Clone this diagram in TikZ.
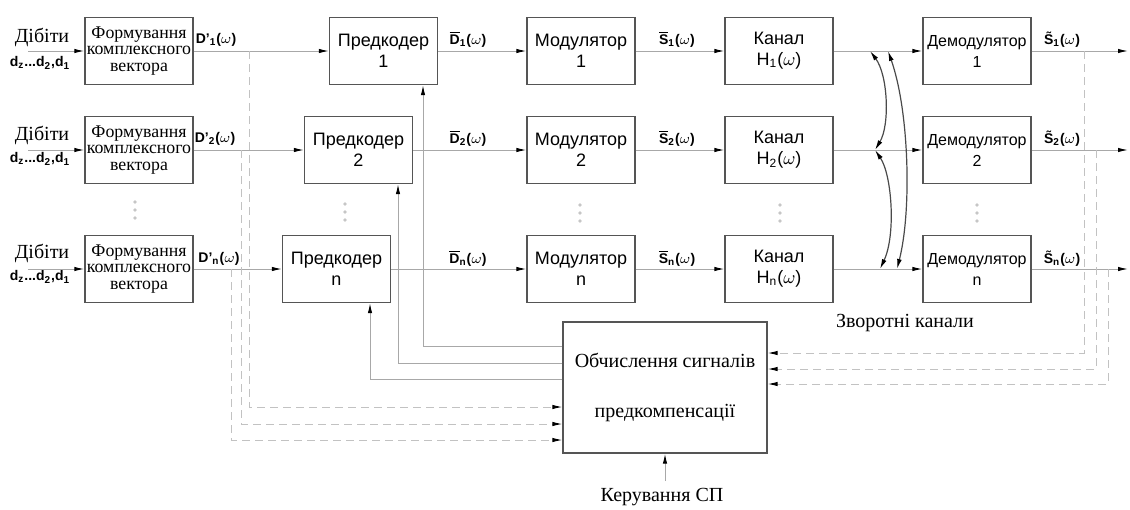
\documentclass[tikz,border=0pt]{standalone}
\usepackage{fontspec}
\setmainfont{Liberation Serif}
\setsansfont{Liberation Sans}
\usepackage{tikz}
\usetikzlibrary{arrows.meta,positioning,calc}
\definecolor{cBox}{HTML}{555555}
\definecolor{cFlow}{HTML}{A8A8A8}
\definecolor{cDash}{HTML}{C2C2C2}
\definecolor{cFb}{HTML}{4A4A4A}
\newcommand{\barsym}[1]{\vbox{\hrule height 0.5pt\kern0.8pt\hbox{#1}}}
\tikzset{
  blkBox/.style={
    draw=cBox,
    line width=0.6pt,
    fill=white,
    align=center,
    font=\sffamily\fontsize{9}{10.5}\selectfont,
    minimum width=54pt,
    minimum height=33.5pt,
    inner sep=1pt
  },
  formBox/.style={
    blkBox,
    font=\fontsize{8.9}{8.2}\selectfont
  },
  demodBox/.style={
    blkBox,
    font=\sffamily\fontsize{8}{10.5}\selectfont
  },
  calcBox/.style={
    blkBox,
    font=\fontsize{10}{12}\selectfont,
    minimum width=102pt,
    minimum height=65.5pt
  },
  sigLabel/.style={
    font=\sffamily\bfseries\fontsize{7}{8}\selectfont,
    inner sep=0pt
  },
  inLabel/.style={
    font=\fontsize{10}{11}\selectfont,
    inner sep=0pt
  },
  flowArrow/.style={
    -{Latex[length=5pt,width=2.2pt,color=black]},
    draw=cFlow,
    line width=0.5pt
  },
  dashArrow/.style={
    -{Latex[length=5pt,width=2.2pt,color=black]},
    draw=cDash,
    dash pattern=on 4pt off 2.5pt,
    line width=0.5pt
  },
  fbArrow/.style={
    {Latex[length=5pt,width=2.4pt,color=black]}-{Latex[length=5pt,width=2.4pt,color=black]},
    draw=cFb,
    line width=0.6pt
  },
  dotMark/.style={
    fill=gray!45
  }
}

\begin{document}
\begin{tikzpicture}[x=0.5pt,y=-0.5pt]
  \useasboundingbox (0,0) rectangle (1130,509);

  % inputs
  \node[inLabel] (dig1) at (42,37) {Дібіти};
  \node[inLabel] (dig2) at (42,135) {Дібіти};
  \node[inLabel] (dign) at (42,253) {Дібіти};
  \node[sigLabel] (bits1) at (40,63) {d\textsubscript{z}...d\textsubscript{2},d\textsubscript{1}};
  \node[sigLabel] (bits2) at (40,159) {d\textsubscript{z}...d\textsubscript{2},d\textsubscript{1}};
  \node[sigLabel] (bitsn) at (40,277) {d\textsubscript{z}...d\textsubscript{2},d\textsubscript{1}};
  \coordinate (in1) at (28,51);
  \coordinate (in2) at (28,150);
  \coordinate (inn) at (28,269);

  % blocks
  \node[formBox] (f1) at (139,51) {Формування\\комплексного\\вектора};
  \node[formBox] (f2) at (139,150) {Формування\\комплексного\\вектора};
  \node[formBox] (fn) at (139,269) {Формування\\комплексного\\вектора};

  \node[blkBox] (pc1) at (383.5,51) {Предкодер\\1};
  \node[blkBox] (pc2) at (358.5,150) {Предкодер\\2};
  \node[blkBox] (pcn) at (336.5,269) {Предкодер\\n};

  \node[blkBox] (m1) at (581,51) {Модулятор\\1};
  \node[blkBox] (m2) at (581,150) {Модулятор\\2};
  \node[blkBox] (mn) at (581,269) {Модулятор\\n};

  \node[blkBox] (ch1) at (779,51) {Канал\\H\textsubscript{1}($\omega$)};
  \node[blkBox] (ch2) at (779,150) {Канал\\H\textsubscript{2}($\omega$)};
  \node[blkBox] (chn) at (779,269) {Канал\\H\textsubscript{n}($\omega$)};

  \node[demodBox] (dm1) at (977,51) {Демодулятор\\1};
  \node[demodBox] (dm2) at (977,150) {Демодулятор\\2};
  \node[demodBox] (dmn) at (977,269) {Демодулятор\\n};

  \node[calcBox] (calc) at (665,387.5) {Обчислення сигналів\\[13pt]предкомпенсації};

  \coordinate (out1) at (1128,51);
  \coordinate (out2) at (1128,150);
  \coordinate (outn) at (1128,269);

  % vertical dots
  \foreach \dx/\dy in {135/202, 345/204, 580/205, 780/205, 977/205}
    \foreach \k in {0,1,2}
      \fill[dotMark] (\dx,\dy+\k*8) circle (0.9pt);

  % signal labels
  \node[sigLabel] (d1) at (216,40) {D'\textsubscript{1}($\omega$)};
  \node[sigLabel] (d2) at (215,139) {D'\textsubscript{2}($\omega$)};
  \node[sigLabel] (dn) at (219,259) {D'\textsubscript{n}($\omega$)};
  \node[sigLabel] (db1) at (468,40) {\barsym{D}\textsubscript{1}($\omega$)};
  \node[sigLabel] (db2) at (468,139) {\barsym{D}\textsubscript{2}($\omega$)};
  \node[sigLabel] (dbn) at (468,259) {\barsym{D}\textsubscript{n}($\omega$)};
  \node[sigLabel] (sb1) at (677,40) {\barsym{S}\textsubscript{1}($\omega$)};
  \node[sigLabel] (sb2) at (677,139) {\barsym{S}\textsubscript{2}($\omega$)};
  \node[sigLabel] (sbn) at (677,259) {\barsym{S}\textsubscript{n}($\omega$)};
  \node[sigLabel] (st1) at (1062,40) {\~{S}\textsubscript{1}($\omega$)};
  \node[sigLabel] (st2) at (1062,139) {\~{S}\textsubscript{2}($\omega$)};
  \node[sigLabel] (stn) at (1062,259) {\~{S}\textsubscript{n}($\omega$)};

  \node[inLabel] (back) at (905,323) {Зворотні канали};
  \node[inLabel] (ctrl) at (662,497) {Керування СП};
  \coordinate (ctrlIn) at (665,481);

  % forward paths
  \draw[flowArrow] (in1) -- (f1);
  \draw[flowArrow] (in2) -- (f2);
  \draw[flowArrow] (inn) -- (fn);
  \draw[flowArrow] (f1) -- (pc1);
  \draw[flowArrow] (f2) -- (pc2);
  \draw[flowArrow] (fn) -- (pcn);
  \draw[flowArrow] (pc1) -- (m1);
  \draw[flowArrow] (pc2) -- (m2);
  \draw[flowArrow] (pcn) -- (mn);
  \draw[flowArrow] (m1) -- (ch1);
  \draw[flowArrow] (m2) -- (ch2);
  \draw[flowArrow] (mn) -- (chn);
  \draw[flowArrow] (ch1) -- (dm1);
  \draw[flowArrow] (ch2) -- (dm2);
  \draw[flowArrow] (chn) -- (dmn);
  \draw[flowArrow] (dm1) -- (out1);
  \draw[flowArrow] (dm2) -- (out2);
  \draw[flowArrow] (dmn) -- (outn);

  % precompensation to precoders
  \draw[flowArrow] (calc.west |- 0,346) -| (pc1.south -| 423,0);
  \draw[flowArrow] (calc.west |- 0,363) -| (pc2.south -| 398,0);
  \draw[flowArrow] (calc.west |- 0,379) -| (pcn.south -| 370,0);
  \draw[flowArrow] (ctrlIn) -- (calc);

  % taps into the computing block
  \coordinate (tap1) at (249,51);
  \coordinate (tap2) at (241,150);
  \coordinate (tapn) at (231,269);
  \draw[dashArrow] (tap1) |- (calc.west |- 0,407);
  \draw[dashArrow] (tap2) |- (calc.west |- 0,424);
  \draw[dashArrow] (tapn) |- (calc.west |- 0,440);
  \coordinate (rtap1) at (1084,51);
  \coordinate (rtap2) at (1096,150);
  \coordinate (rtapn) at (1108,269);
  \draw[dashArrow] (rtap1) |- (calc.east |- 0,353);
  \draw[dashArrow] (rtap2) |- (calc.east |- 0,369);
  \draw[dashArrow] (rtapn) |- (calc.east |- 0,384);

  % return channels
  \coordinate (fbA1) at (870,51);
  \coordinate (fbA2) at (875,150);
  \coordinate (fbAn) at (880,269);
  \coordinate (fbB1) at (888,51);
  \coordinate (fbBn) at (897,269);
  \draw[fbArrow] (fbA2) .. controls (890,125) and (888,75) .. (fbA1);
  \draw[fbArrow] (fbA2) .. controls (892,175) and (896,235) .. (fbAn);
  \draw[fbArrow] (fbB1) .. controls (909,110) and (912,210) .. (fbBn);
\end{tikzpicture}
\end{document}
